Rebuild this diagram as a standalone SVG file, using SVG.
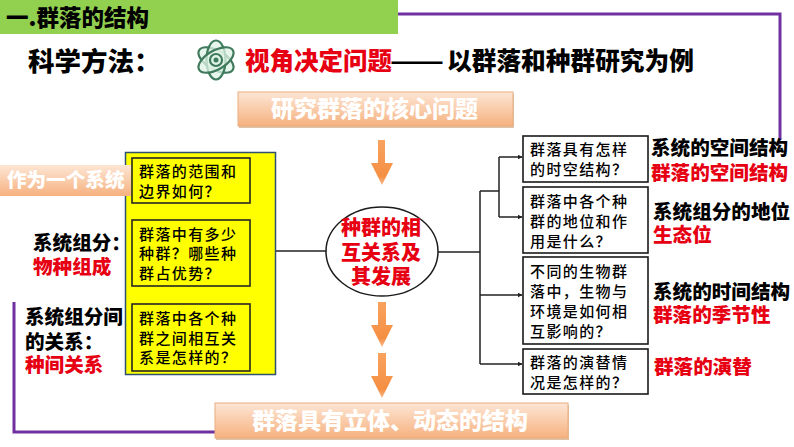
<svg xmlns="http://www.w3.org/2000/svg" width="794" height="447" viewBox="0 0 794 447">
<style>
text{font-family:"Noto Sans CJK SC","Noto Sans",sans-serif;font-weight:900;fill:#000}
.r{fill:#e60012}
.w{fill:#fff}
.q{font-size:15px;font-weight:500;letter-spacing:1.4px}
.l{font-size:19.6px}
.band{fill:url(#og);stroke:#e9ae80;stroke-width:1}
.sh{fill:#c98f60;opacity:.55}
.box{fill:#fff;stroke:#1a1a1a;stroke-width:1.6}
.ybox{fill:#ffff00;stroke:#262626;stroke-width:1.6}
.con{fill:none;stroke:#222;stroke-width:1.5}
.pur{fill:none;stroke:#7030a0;stroke-width:3}
.arr{fill:url(#ar)}
</style>
<defs>
<linearGradient id="og" x1="0" y1="0" x2="0" y2="1"><stop offset="0" stop-color="#fde6d5"/><stop offset="1" stop-color="#f6b17f"/></linearGradient>
<linearGradient id="ar" x1="0" y1="0" x2="0" y2="1"><stop offset="0" stop-color="#f8a35f"/><stop offset=".8" stop-color="#f58f43"/><stop offset="1" stop-color="#f7b98a"/></linearGradient>
<marker id="tip" markerWidth="6" markerHeight="6" refX="4.5" refY="2.5" orient="auto" markerUnits="userSpaceOnUse"><path d="M0 0L5 2.5L0 5Z" fill="#222"/></marker>
</defs>
<rect width="794" height="447" fill="#fff"/>
<g id="connectors">
<path class="pur" d="M398 14H780V140"/>
<path class="pur" d="M14 302V432H216"/>
<path class="con" d="M268 179V335"/>
<path class="con" d="M268 179H251" marker-end="url(#tip)"/>
<path class="con" d="M327 251H251" marker-end="url(#tip)"/>
<path class="con" d="M268 335H251" marker-end="url(#tip)"/>
<path class="con" d="M438 252H480M480 191V364M480 191H499M499 157V217"/>
<path class="con" d="M499 157H522" marker-end="url(#tip)"/>
<path class="con" d="M499 217H522" marker-end="url(#tip)"/>
<path class="con" d="M480 295H522" marker-end="url(#tip)"/>
<path class="con" d="M480 364H522" marker-end="url(#tip)"/>
</g>
<g id="header"><rect width="398" height="34" fill="#92d050"/><text x="6" y="26" font-size="22.5">一.群落的结构</text></g>
<g id="method">
<text x="28" y="71" font-size="26.5">科学方法：</text>
<g fill="#dff3e6" fill-opacity=".75" stroke="#3f7a5c" stroke-width="2.2"><ellipse cx="216" cy="60" rx="19.5" ry="9.5" transform="rotate(30 216 60)"/><ellipse cx="216" cy="60" rx="19.5" ry="9.5" transform="rotate(90 216 60)"/><ellipse cx="216" cy="60" rx="19.5" ry="9.5" transform="rotate(150 216 60)"/><circle cx="216" cy="60" r="6"/></g><circle cx="216" cy="60" r="2.5" fill="#3f7a5c"/>
<text x="245" y="70" font-size="24.5" class="r">视角决定问题</text>
<text font-size="24.7"><tspan x="390" y="72" font-size="32" font-weight="500">——</tspan><tspan x="447" y="70">以群落和种群研究为例</tspan></text>
</g>
<g id="core-question"><rect class="sh" x="239" y="94" width="275" height="34"/><rect class="band" x="238" y="92" width="275" height="34"/><text class="w" x="271" y="117" font-size="23">研究群落的核心问题</text></g>
<g id="arrow-1"><path class="arr" d="M378 140H385V163H393L382 185L371 163H378Z"/></g>
<g id="arrow-2"><path class="arr" d="M378 302H386V325H393L382 347L371 325H378Z"/></g>
<g id="arrow-3"><path class="arr" d="M378 353H386V376H393L382 398L371 376H378Z"/></g>
<g id="conclusion"><rect class="sh" x="216" y="405" width="353" height="35"/><rect class="band" x="215" y="403" width="353" height="35"/><text class="w" x="252" y="429" font-size="23">群落具有立体、动态的结构</text></g>
<g id="yellow-panel"><rect x="125.500" y="152.500" width="150" height="222" fill="#ffff00" stroke="#2f5070" stroke-width="1.500"/></g>
<g id="system-label"><rect x="0" y="165" width="131" height="31" fill="url(#og)"/><text class="w" x="7" y="187" font-size="19.600">作为一个系统</text></g>
<g id="q1"><rect class="ybox" x="132" y="158" width="118" height="45"/><text class="q"><tspan x="139" y="177">群落的范围和</tspan><tspan x="139" y="197">边界如何？</tspan></text></g>
<g id="q2"><rect class="ybox" x="132" y="220" width="118" height="66"/><text class="q"><tspan x="139" y="240">群落中有多少</tspan><tspan x="139" y="259">种群？哪些种</tspan><tspan x="139" y="279">群占优势？</tspan></text></g>
<g id="q3"><rect class="ybox" x="132" y="304" width="118" height="67"/><text class="q"><tspan x="139" y="324">群落中各个种</tspan><tspan x="139" y="344">群之间相互关</tspan><tspan x="139" y="363">系是怎样的？</tspan></text></g>
<g id="left-labels">
<text class="l"><tspan x="33" y="250">系统组分：</tspan><tspan class="r" x="33" y="274">物种组成</tspan></text>
<text class="l"><tspan x="25" y="324">系统组分间</tspan><tspan x="25" y="349">的关系：</tspan><tspan class="r" x="25" y="372">种间关系</tspan></text>
</g>
<g id="center"><ellipse cx="382" cy="251.500" rx="56" ry="44.500" fill="#fff" stroke="#1a1a1a" stroke-width="1.500"/>
<text class="r" font-size="20"><tspan x="341" y="235">种群的相</tspan><tspan x="341" y="260">互关系及</tspan><tspan x="351" y="284">其发展</tspan></text></g>
<g id="r1"><rect class="box" x="523" y="136" width="125" height="46"/><text class="q"><tspan x="530" y="155">群落具有怎样</tspan><tspan x="530" y="175">的时空结构？</tspan></text></g>
<g id="r2"><rect class="box" x="523" y="187" width="125" height="66"/><text class="q"><tspan x="530" y="207">群落中各个种</tspan><tspan x="530" y="227">群的地位和作</tspan><tspan x="530" y="247">用是什么？</tspan></text></g>
<g id="r3"><rect class="box" x="523" y="257" width="125" height="87"/><text class="q"><tspan x="530" y="277">不同的生物群</tspan><tspan x="530" y="297">落中，生物与</tspan><tspan x="530" y="317">环境是如何相</tspan><tspan x="530" y="337">互影响的？</tspan></text></g>
<g id="r4"><rect class="box" x="523" y="349" width="125" height="45"/><text class="q"><tspan x="530" y="368">群落的演替情</tspan><tspan x="530" y="388">况是怎样的？</tspan></text></g>
<g id="right-labels">
<text class="l"><tspan x="651" y="155">系统的空间结构</tspan><tspan class="r" x="651" y="180">群落的空间结构</tspan></text>
<text class="l"><tspan x="653" y="219">系统组分的地位</tspan><tspan class="r" x="653" y="242">生态位</tspan></text>
<text class="l"><tspan x="653" y="299">系统的时间结构</tspan><tspan class="r" x="653" y="322">群落的季节性</tspan></text>
<text class="l r" x="654" y="374">群落的演替</text>
</g>
</svg>
